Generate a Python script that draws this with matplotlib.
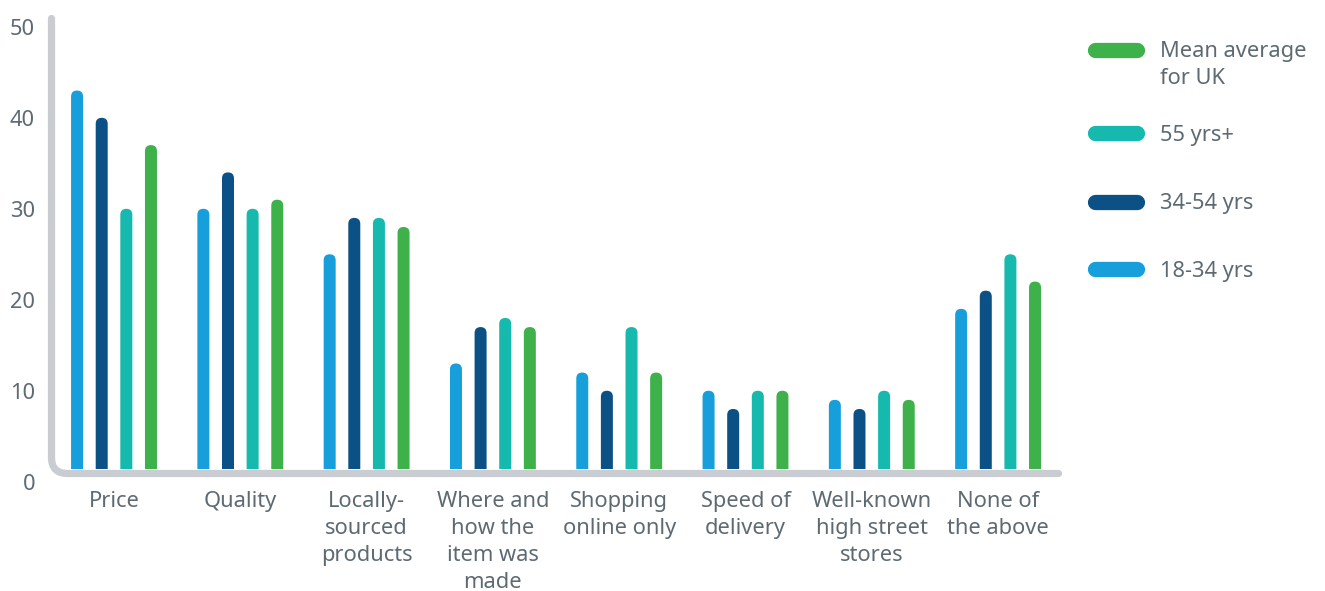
import matplotlib
matplotlib.use("Agg")
import matplotlib.pyplot as plt
import numpy as np
from matplotlib.patches import FancyBboxPatch, PathPatch
from matplotlib.path import Path
from matplotlib.lines import Line2D
import matplotlib.transforms as mtransforms

plt.rcParams['font.family'] = ['Noto Sans', 'DejaVu Sans']

categories = ["Price", "Quality", "Locally-\nsourced\nproducts", "Where and\nhow the\nitem was\nmade",
              "Shopping\nonline only", "Speed of\ndelivery", "Well-known\nhigh street\nstores", "None of\nthe above"]
series_names = ["18-34 yrs", "34-54 yrs", "55 yrs+", "Mean average\nfor UK"]
v_18_34 = [43, 30, 25, 13, 12, 10, 9, 19]
v_34_54 = [40, 34, 29, 17, 10, 8, 8, 21]
v_55 = [30, 30, 29, 18, 17, 10, 10, 25]
v_mean = [37, 31, 28, 17, 12, 10, 9, 22]
y_ticks = [0, 10, 20, 30, 40, 50]

colors = ["#179fdb", "#0c5185", "#16b9ad", "#3fb14b"]
text_color = "#5d6a72"
axis_color = "#c9ccd0"
FS = 15.7

W, H = 1325, 591
fig = plt.figure(figsize=(W / 100, H / 100), dpi=100)
ax_left, ax_right, ax_bottom, ax_top = 52, 1062, 469, 15
ax = fig.add_axes([ax_left / W, (H - ax_bottom) / H, (ax_right - ax_left) / W, (ax_bottom - ax_top) / H])
ax.set_xlim(-0.491, 7.506)
ax.set_ylim(1.4, 51.3)
for s in ax.spines.values():
    s.set_visible(False)

x = np.arange(len(categories))
step = 0.195
width = 0.095
all_series = [v_18_34, v_34_54, v_55, v_mean]
px_x = (ax_right - ax_left) / (7.506 + 0.491)
px_y = (ax_bottom - ax_top) / (51.3 - 1.4)
aspect = px_x / px_y
for k, vals in enumerate(all_series):
    bars = ax.bar(x + (k - 1.5) * step, vals, width=width, color=colors[k])
    for b in bars:
        b.set_visible(False)
        r = b.get_width() / 2
        fb = FancyBboxPatch((b.get_x(), b.get_y()), b.get_width(), b.get_height(),
                            boxstyle=f"round,pad=0,rounding_size={r}",
                            mutation_aspect=aspect, facecolor=colors[k], edgecolor='none',
                            transform=ax.transData)
        ax.add_patch(fb)

ax.set_xticks(x)
ax.set_xticklabels(categories, fontsize=FS, color=text_color, linespacing=1.38)
ax.tick_params(axis='x', length=0, pad=16)
ax.set_yticks([])

trans = mtransforms.blended_transform_factory(ax.transAxes, ax.transData)
off = mtransforms.ScaledTranslation(-17 / 100, -3 / 100, fig.dpi_scale_trans)
for t in y_ticks:
    ax.text(0, t, str(t), transform=trans + off, ha='right', va='center',
            fontsize=FS, color=text_color, clip_on=False)

def fx(px):
    return px / W
def fy(py):
    return (H - py) / H
xv, yh, r0 = 51.5, 473.5, 16
verts = [(fx(xv), fy(18.5)), (fx(xv), fy(yh - r0)),
         (fx(xv), fy(yh)), (fx(xv + r0), fy(yh)),
         (fx(1058.5), fy(yh))]
codes = [Path.MOVETO, Path.LINETO, Path.CURVE3, Path.CURVE3, Path.LINETO]
pp = PathPatch(Path(verts, codes), facecolor='none', edgecolor=axis_color, lw=5.2,
               capstyle='round', joinstyle='round', transform=fig.transFigure)
fig.add_artist(pp)

legend_order = [3, 2, 1, 0]
legend_y = [50, 133, 202, 269]
for k, yy in zip(legend_order, legend_y):
    fig.add_artist(Line2D([fx(1095), fx(1137)], [fy(yy), fy(yy)], lw=11, color=colors[k],
                          solid_capstyle='round', transform=fig.transFigure))
    if k == 3:
        fig.text(fx(1160), fy(65), series_names[k], fontsize=FS, color=text_color,
                 ha='left', va='center', linespacing=1.42)
    else:
        fig.text(fx(1160), fy(yy + 2), series_names[k], fontsize=FS, color=text_color,
                 ha='left', va='center')

fig.savefig("out.png", dpi=100)
